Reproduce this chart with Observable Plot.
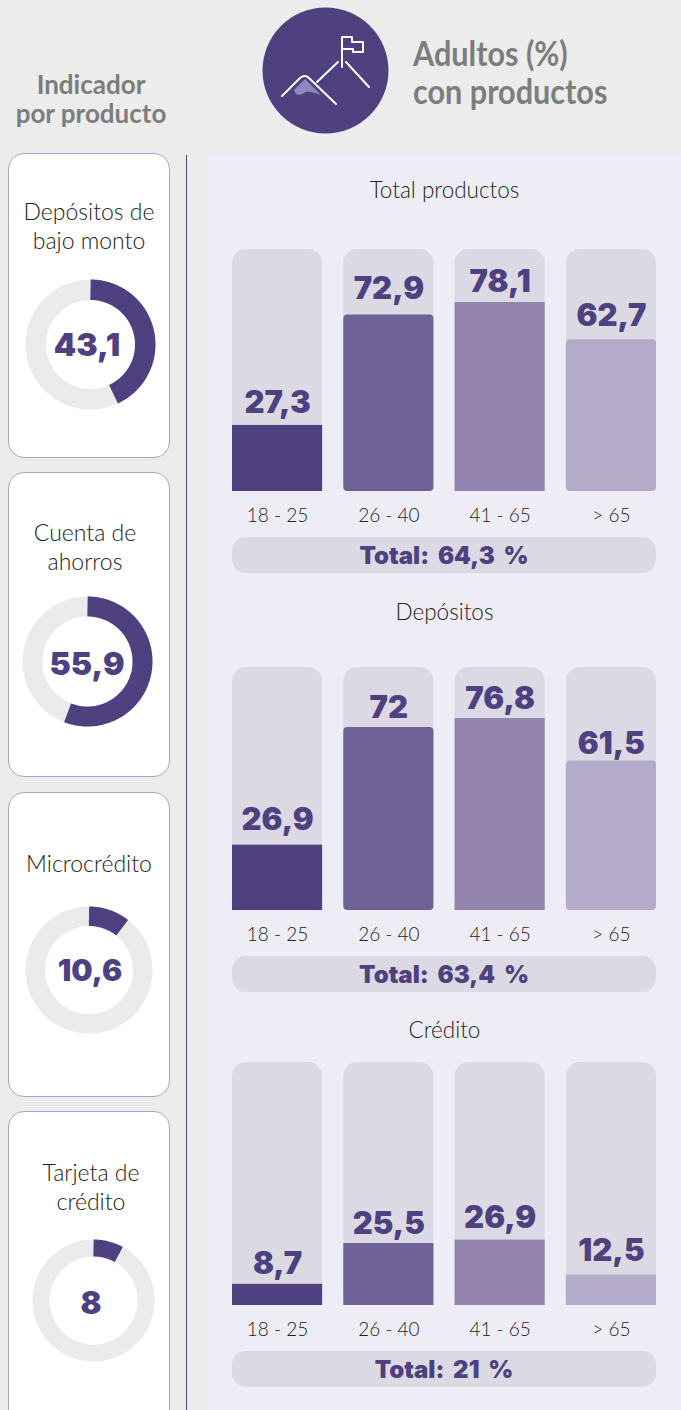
<!DOCTYPE html>
<html lang="es">
<head>
<meta charset="utf-8">
<script src="https://cdn.jsdelivr.net/npm/d3@7"></script>
<script src="https://cdn.jsdelivr.net/npm/@observablehq/plot@0.6"></script>
<style>
  html,body{margin:0;padding:0;background:#ececec;overflow:hidden}
  #page{position:relative;width:681px;height:1410px;overflow:hidden;background:#ececec;font-family:Lato,sans-serif;color:#222}
  #page>*{position:absolute}
  .hd{color:#7d7d7d;font-weight:700}
  .lbl{font-weight:300;font-size:23px;line-height:29px;text-align:center;color:#222;transform:translateX(-50%);white-space:nowrap}
  .ttl{font-weight:300;font-size:22.5px;line-height:28px;text-align:center;color:#222;transform:translateX(-50%);white-space:nowrap}
  .pill{background:#dbd9e4;border-radius:14px;color:#4f4080;font-family:Inter,sans-serif;font-weight:900;font-size:24px;word-spacing:4px;text-align:center;left:232px;width:424px;height:36px;line-height:38px}
  .card{background:#fff;border:1px solid #aaa5cf;border-radius:16px;left:8px;width:160px}
  .val{color:#4f4080;font-family:Inter,sans-serif;font-weight:900;transform:translate(-50%,-50%);white-space:nowrap;line-height:1}
  svg{display:block}
</style>
</head>
<body>
<div id="page"></div>
<script>
const ageGroups = ["18 - 25", "26 - 40", "41 - 65", "> 65"];
const ageColors = ["#4f4080", "#6f6096", "#9283af", "#b4aac9"];
const roundedAges = ["26 - 40", "> 65"];

const chartTitles = ["Total productos", "Depósitos", "Crédito"];
const totalProductos = [27.3, 72.9, 78.1, 62.7];
const depositos = [26.9, 72, 76.8, 61.5];
const depositosDrawn = [26.9, 75.3, 79, 61.5];
const credito = [8.7, 25.5, 26.9, 12.5];
const chartTotals = [64.3, 63.4, 21];

const productNames = [["Depósitos de", "bajo monto"], ["Cuenta de", "ahorros"], ["Microcrédito"], ["Tarjeta de", "crédito"]];
const productValues = [43.1, 55.9, 10.6, 8];

const fmt = v => String(v).replace(".", ",");
const page = document.getElementById("page");

function box(cls, css, html) {
  const d = document.createElement("div");
  d.className = cls;
  d.style.cssText = css;
  if (html != null) d.innerHTML = html;
  page.appendChild(d);
  return d;
}
function place(node, left, top) {
  node.style.position = "absolute";
  node.style.left = left + "px";
  node.style.top = top + "px";
  page.appendChild(node);
}

// ---- background panel, rule, header
box("", "left:207px;top:155px;width:474px;height:1255px;background:#eeedf6");
box("", "left:186px;top:155px;width:1px;height:1255px;background:#4f4080");
box("hd", "left:0;width:182px;top:70px;text-align:center;font-size:26px;line-height:29px;white-space:nowrap", "Indicador<br>por producto");
box("hd", "left:413px;top:34px;font-size:34px;line-height:38px;white-space:nowrap;transform:scaleX(.9);transform-origin:0 0", "Adultos (%)<br>con productos");
const icon = box("", "left:262px;top:7px;width:127px;height:127px");
icon.innerHTML = `<svg width="127" height="127" viewBox="262 7 127 127">
<circle cx="325.5" cy="70.5" r="63" fill="#4f4080"/>
<path d="M294 90 L305 79 L321 95 C314 93 310 91 306 92 C301 95 296 97 294 90Z" fill="#8f87c0"/>
<g fill="none" stroke="#fff" stroke-width="2" stroke-linecap="round" stroke-linejoin="round">
<path d="M282 96 L300 78 Q305 74 309 78 L336 104"/>
<path d="M317 82 L338 62"/><path d="M346 62 L369 87"/>
<path d="M342 67 V37 H352 V42 H363 V52 H353 V49 H342"/>
</g></svg>`;

// ---- product cards with donuts
const cards = [
  {top:153, h:303, cx:90,  cy:343.5, outer:65, inner:44.5, lx:89, ly:197, vx:87, vy:345, fs:32},
  {top:472, h:303, cx:87,  cy:661,   outer:65, inner:45,   lx:85, ly:518, vx:87, vy:664, fs:32},
  {top:792, h:303, cx:88.5,cy:969,   outer:63.5,inner:44,  lx:89, ly:849, vx:90, vy:970, fs:30},
  {top:1111,h:340, cx:92.5,cy:1300,  outer:61, inner:44,   lx:91, ly:1158,vx:91, vy:1302,fs:31}
];
function arcPoints(pct) {
  const n = Math.max(2, Math.ceil(pct * 2));
  return d3.range(n + 1).map(i => {
    const a = (i / n) * (pct / 100) * 2 * Math.PI;
    return {sx: Math.sin(a), cy: Math.cos(a)};
  });
}
cards.forEach((c, i) => {
  box("card", `top:${c.top}px;height:${c.h}px`);
  box("lbl", `left:${c.lx}px;top:${c.ly}px`, productNames[i].join("<br>"));
  const mid = (c.outer + c.inner) / 2, sw = c.outer - c.inner;
  const donut = Plot.plot({
    width: 2 * c.outer, height: 2 * c.outer, margin: 0,
    style: {background: "transparent", overflow: "visible"},
    x: {domain: [-c.outer, c.outer], axis: null},
    y: {domain: [-c.outer, c.outer], axis: null},
    marks: [
      Plot.line(arcPoints(100), {x: d => d.sx * mid, y: d => d.cy * mid, stroke: "#ebebeb", strokeWidth: sw, strokeLinecap: "butt", strokeLinejoin: "round"}),
      Plot.line(arcPoints(productValues[i]), {x: d => d.sx * mid, y: d => d.cy * mid, stroke: "#4f4080", strokeWidth: sw, strokeLinecap: "butt", strokeLinejoin: "round"})
    ]
  });
  place(donut, c.cx - c.outer, c.cy - c.outer);
  box("val", `left:${c.vx}px;top:${c.vy}px;font-size:${c.fs}px`, fmt(productValues[i]));
});

// ---- bar charts
const charts = [
  {values: totalProductos, drawn: totalProductos, lifts: [12, 16, 10, 14], barRadius: 4, top:249,  bottom:491,  left:232, titleY:176,  pillY:537},
  {values: depositos,      drawn: depositosDrawn, lifts: [15, 10, 10, 7],  barRadius: 4, top:667,  bottom:910,  left:232, titleY:598,  pillY:956},
  {values: credito,        drawn: credito,        lifts: [10, 10, 12, 14], barRadius: 0, top:1062, bottom:1305, left:232, titleY:1016, pillY:1351}
];
charts.forEach((c, i) => {
  box("ttl", `left:444.5px;top:${c.titleY}px`, chartTitles[i]);
  const rows = ageGroups.map((age, j) => ({age, value: c.values[j], drawn: c.drawn[j], color: ageColors[j], lift: c.lifts[j]}));
  const mt = 10, mb = 40;
  const chart = Plot.plot({
    width: 24 + 424 + 25, height: mt + (c.bottom - c.top) + mb,
    marginLeft: 24, marginRight: 25, marginTop: mt, marginBottom: mb,
    style: {background: "transparent", fontFamily: "Lato, sans-serif", overflow: "visible"},
    x: {domain: ageGroups, paddingInner: 0.19, paddingOuter: 0, round: false, axis: null},
    y: {domain: [0, 100], axis: null},
    marks: [
      Plot.barY(rows, {x: "age", y: 100, fill: "#dbd9e4", rx: 14}),
      Plot.barY(rows.filter(d => !roundedAges.includes(d.age)), {x: "age", y: "drawn", fill: "color"}),
      Plot.barY(rows.filter(d => roundedAges.includes(d.age)), {x: "age", y: "drawn", fill: "color", rx: c.barRadius}),
      ...rows.map(d => Plot.text([d], {x: "age", y: "drawn", text: e => fmt(e.value), fill: "#4f4080", fontFamily: "Inter, sans-serif", fontWeight: 900, fontSize: 31, lineAnchor: "bottom", dy: -d.lift})),
      Plot.axisX({tickSize: 0, tickPadding: 17, label: null, fontSize: 19, fontWeight: 300, fill: "#222"})
    ]
  });
  place(chart, c.left - 24, c.top - mt);
  box("pill", `top:${c.pillY}px`, `Total: ${fmt(chartTotals[i])} %`);
});
</script>
</body>
</html>
